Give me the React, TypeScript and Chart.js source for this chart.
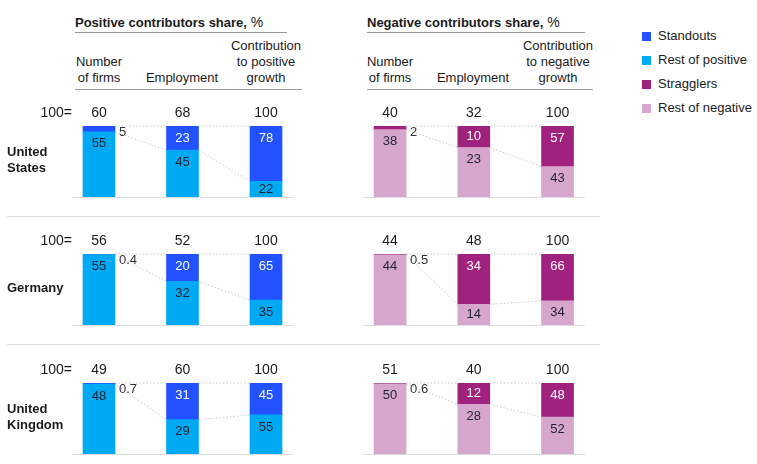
import { useEffect, useRef } from 'react';
import { Chart, registerables } from 'chart.js';

Chart.register(...registerables);

// ---- data ----
const COUNTRY_LINES = [['United', 'States'], ['Germany'], ['United', 'Kingdom']];
const COLUMN_KEYS = ['Number of firms', 'Employment', 'Contribution'];
const POS_HEADERS = [['Number', 'of firms'], ['Employment'], ['Contribution', 'to positive', 'growth']];
const NEG_HEADERS = [['Number', 'of firms'], ['Employment'], ['Contribution', 'to negative', 'growth']];

// per country: [number of firms, employment, contribution]
const STANDOUTS = [[5, 23, 78], [0.4, 20, 65], [0.7, 31, 45]];
const REST_OF_POSITIVE = [[55, 45, 22], [55, 32, 35], [48, 29, 55]];
const POSITIVE_TOTALS = [[60, 68, 100], [56, 52, 100], [49, 60, 100]];

const STRAGGLERS = [[2, 10, 57], [0.5, 34, 66], [0.6, 12, 48]];
const REST_OF_NEGATIVE = [[38, 23, 43], [44, 14, 34], [50, 28, 52]];
const NEGATIVE_TOTALS = [[40, 32, 100], [44, 48, 100], [51, 40, 100]];

const LEGEND_ITEMS = ['Standouts', 'Rest of positive', 'Stragglers', 'Rest of negative'];

// ---- styles ----
const C_STANDOUT = '#2251ff';
const C_REST_POS = '#00a9f4';
const C_STRAGGLER = '#a1217f';
const C_REST_NEG = '#d6a6cc';
const LEGEND_COLORS = [C_STANDOUT, C_REST_POS, C_STRAGGLER, C_REST_NEG];
const FONT = '"Liberation Sans", Arial, Helvetica, sans-serif';
const INK = '#1b1b1b';

// ---- layout ----
const ROW_BAR_TOP = [126, 254.3, 383.3];
const BAR_H = 71;
const PAD_TOP = 30;
const PAD_BOTTOM = 10;
const PANELS = [
  { left: 0, width: 330, padLeft: 57.25, padRight: 22.25 },
  { left: 330, width: 290, padLeft: 18.2, padRight: 20.6 },
];

const toShares = (top: number[], rest: number[]) => ({
  top: top.map((v, i) => (v / (v + rest[i])) * 100),
  rest: rest.map((v, i) => (v / (top[i] + v)) * 100),
});

const fmt = (v: number) => String(v);

function makeConfig(row: number, side: number): any {
  const positive = side === 0;
  const top = positive ? STANDOUTS[row] : STRAGGLERS[row];
  const rest = positive ? REST_OF_POSITIVE[row] : REST_OF_NEGATIVE[row];
  const totals = positive ? POSITIVE_TOTALS[row] : NEGATIVE_TOTALS[row];
  const shares = toShares(top, rest);
  const layout = PANELS[side];

  const marks = {
    id: 'panelMarks',
    afterDatasetsDraw(chart: any) {
      const ctx: CanvasRenderingContext2D = chart.ctx;
      const area = chart.chartArea;
      const restBars = chart.getDatasetMeta(0).data;
      const topBars = chart.getDatasetMeta(1).data;
      const half = 16;
      ctx.save();

      // baseline
      const x0 = restBars[0].x - 27;
      const x1 = restBars[restBars.length - 1].x + 27.5;
      ctx.strokeStyle = '#dcdcdc';
      ctx.lineWidth = 1.2;
      ctx.beginPath();
      ctx.moveTo(x0, area.bottom + 0.5);
      ctx.lineTo(x1, area.bottom + 0.5);
      ctx.stroke();

      // dotted connectors between neighbouring bars
      ctx.strokeStyle = '#b9b9b9';
      ctx.lineWidth = 0.8;
      ctx.setLineDash([1.5, 2]);
      for (let i = 0; i < restBars.length - 1; i++) {
        const a = restBars[i];
        const b = restBars[i + 1];
        ctx.beginPath();
        ctx.moveTo(a.x + half, topBars[i].y);
        ctx.lineTo(b.x - half, topBars[i + 1].y);
        ctx.stroke();
        ctx.beginPath();
        ctx.moveTo(a.x + half, a.y);
        ctx.lineTo(b.x - half, b.y);
        ctx.stroke();
      }
      ctx.setLineDash([]);

      ctx.textBaseline = 'middle';

      // totals above bars
      ctx.font = `14px ${FONT}`;
      ctx.fillStyle = INK;
      ctx.textAlign = 'center';
      totals.forEach((t, i) => ctx.fillText(fmt(t), restBars[i].x, area.top - 13));
      if (positive) {
        ctx.textAlign = 'right';
        ctx.fillText('100=', x0, area.top - 13);
        // country label
        ctx.font = `bold 13px ${FONT}`;
        ctx.textAlign = 'left';
        const lines = COUNTRY_LINES[row];
        const mid = area.top + 34;
        lines.forEach((ln, k) => {
          ctx.fillText(ln, 7, mid + (k - (lines.length - 1) / 2) * 16);
        });
      }

      // segment values
      ctx.font = `13px ${FONT}`;
      top.forEach((v, i) => {
        const el = topBars[i];
        const h = el.base - el.y;
        if (h < 10) {
          ctx.textAlign = 'left';
          ctx.fillStyle = '#333';
          ctx.fillText(fmt(v), el.x + half + 4, el.y + 6);
        } else {
          ctx.textAlign = 'center';
          ctx.fillStyle = '#ffffff';
          ctx.fillText(fmt(v), el.x, el.y + Math.min(12.5, h / 2));
        }
      });
      rest.forEach((v, i) => {
        const el = restBars[i];
        const h = el.base - el.y;
        ctx.textAlign = 'center';
        ctx.fillStyle = '#1e2430';
        ctx.fillText(fmt(v), el.x, el.y + Math.min(12, h / 2));
      });
      ctx.restore();
    },
  };

  return {
    type: 'bar',
    data: {
      labels: COLUMN_KEYS,
      datasets: [
        {
          label: positive ? 'Rest of positive' : 'Rest of negative',
          data: shares.rest,
          backgroundColor: positive ? C_REST_POS : C_REST_NEG,
          stack: 's',
        },
        {
          label: positive ? 'Standouts' : 'Stragglers',
          data: shares.top,
          backgroundColor: positive ? C_STANDOUT : C_STRAGGLER,
          stack: 's',
        },
      ],
    },
    options: {
      animation: false,
      responsive: false,
      maintainAspectRatio: false,
      devicePixelRatio: 1,
      layout: {
        padding: { left: layout.padLeft, right: layout.padRight, top: PAD_TOP, bottom: PAD_BOTTOM },
      },
      datasets: { bar: { barThickness: 32, borderWidth: 0, borderSkipped: false } },
      scales: {
        x: { stacked: true, display: false, offset: true },
        y: { stacked: true, display: false, min: 0, max: 100 },
      },
      plugins: { legend: { display: false }, tooltip: { enabled: false } },
    },
    plugins: [marks],
  };
}

const textBase: any = {
  position: 'absolute',
  fontFamily: FONT,
  fontSize: 13,
  lineHeight: '16px',
  height: 16,
  color: INK,
  whiteSpace: 'nowrap',
};

function Centered({ x, y, children, style }: any) {
  return (
    <div style={{ ...textBase, left: x, top: y - 8, transform: 'translateX(-50%)', textAlign: 'center', ...style }}>
      {children}
    </div>
  );
}

function Rule({ x, y, w, color }: any) {
  return <div style={{ position: 'absolute', left: x, top: y, width: w, height: 1, background: color }} />;
}

const HEADER_BLOCKS = [
  { title: 'Positive contributors share,', x: 75, titleRule: 212, colRule: 227, centers: [99, 182, 266], cols: POS_HEADERS },
  { title: 'Negative contributors share,', x: 367, titleRule: 218, colRule: 226, centers: [390, 473, 558], cols: NEG_HEADERS },
];

export default function App() {
  const refs = useRef<(HTMLCanvasElement | null)[]>([]);

  useEffect(() => {
    const charts: Chart[] = [];
    ROW_BAR_TOP.forEach((_, r) => {
      PANELS.forEach((_, s) => {
        const cv = refs.current[r * 2 + s];
        if (cv) charts.push(new Chart(cv, makeConfig(r, s)));
      });
    });
    return () => charts.forEach((c) => c.destroy());
  }, []);

  return (
    <div style={{ position: 'absolute', left: 0, top: 0, width: 757, height: 464, background: '#fff', overflow: 'hidden' }}>
      {HEADER_BLOCKS.map((hb, b) => (
        <div key={b}>
          <div style={{ ...textBase, left: hb.x, top: 21.5 - 8, fontWeight: 'bold' }}>
            {hb.title}
            <span style={{ fontWeight: 'normal', fontSize: 14 }}> %</span>
          </div>
          <Rule x={hb.x} y={32} w={hb.titleRule} color="#9a9a9a" />
          {hb.cols.map((lines, i) =>
            lines.map((ln, k) => (
              <Centered key={`${i}-${k}`} x={hb.centers[i]} y={78 - (lines.length - 1 - k) * 16}>
                {ln}
              </Centered>
            ))
          )}
          <Rule x={hb.x} y={89} w={hb.colRule} color="#9a9a9a" />
        </div>
      ))}

      {LEGEND_ITEMS.map((name, i) => (
        <div key={name}>
          <div
            style={{ position: 'absolute', left: 642, top: 31.5 + i * 24, width: 9, height: 9, background: LEGEND_COLORS[i] }}
          />
          <div style={{ ...textBase, left: 658, top: 36 + i * 24 - 8 }}>{name}</div>
        </div>
      ))}

      <Rule x={7} y={216} w={593} color="#dedede" />
      <Rule x={7} y={344} w={593} color="#dedede" />

      {ROW_BAR_TOP.map((barTop, r) =>
        PANELS.map((p, s) => (
          <canvas
            key={`${r}-${s}`}
            ref={(el) => {
              refs.current[r * 2 + s] = el;
            }}
            width={p.width}
            height={PAD_TOP + BAR_H + PAD_BOTTOM}
            style={{
              position: 'absolute',
              left: p.left,
              top: barTop - PAD_TOP,
              width: p.width,
              height: PAD_TOP + BAR_H + PAD_BOTTOM,
              display: 'block',
            }}
          />
        ))
      )}
    </div>
  );
}
